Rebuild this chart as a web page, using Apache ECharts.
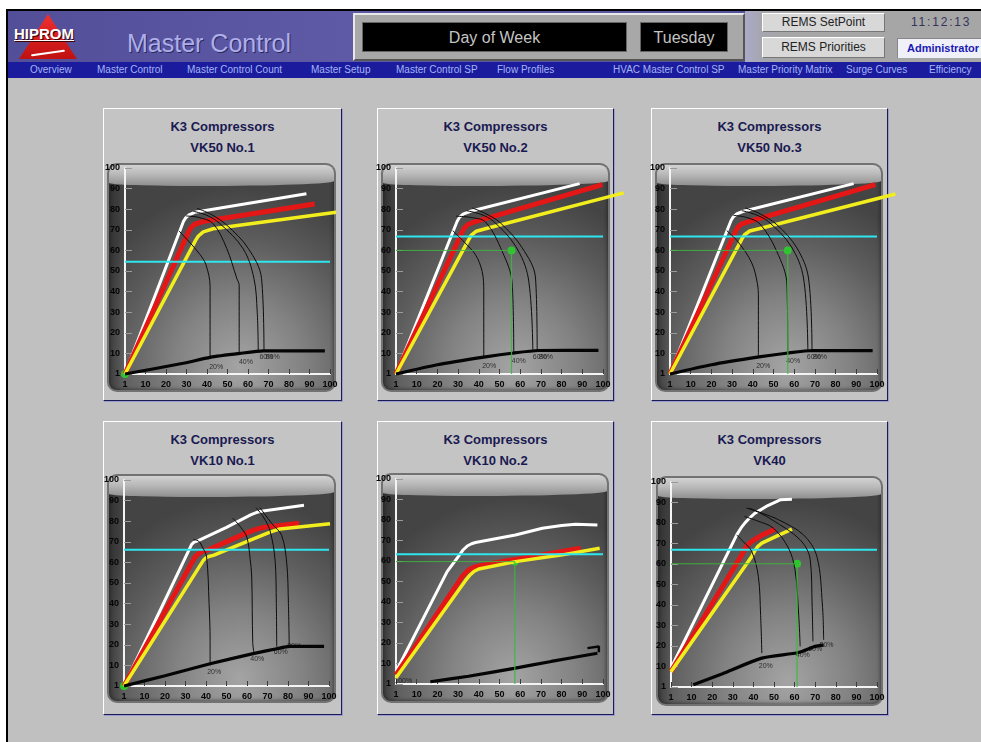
<!DOCTYPE html>
<html><head><meta charset="utf-8">
<script src="https://cdn.jsdelivr.net/npm/echarts@6/dist/echarts.min.js"></script>
<style>
html,body{margin:0;padding:0;background:#fff;width:981px;height:742px;overflow:hidden;font-family:"Liberation Sans",Arial,sans-serif;}
.abs{position:absolute;box-sizing:border-box;}
#frame{left:6px;top:9px;width:975px;height:733px;background:#c0c0c0;border-left:2px solid #000;border-top:2px solid #000;}
#hdr{left:8px;top:11px;width:973px;height:51px;background:linear-gradient(90deg,#534e98 0%,#5e5aa6 35%,#5a57a2 60%,#4f4c95 100%);}
#logoTri{left:19px;top:14px;width:58px;height:45px;background:linear-gradient(180deg,#f03030,#c01010);clip-path:polygon(50% 0,100% 100%,0 100%);}
#logoTxt{left:14px;top:25px;font:bold 15px "Liberation Sans",Arial;color:#fff;text-decoration:underline;text-shadow:1px 1px 0 #400;}
#swoosh{left:31px;top:52px;width:34px;height:2px;background:#fff;transform:rotate(-8deg);border-radius:2px;}
#mtitle{left:127px;top:29px;font:25px "Liberation Sans",Arial;color:#aeaeea;text-shadow:1px 1px 0 #2a2a60;}
#dayFrame{left:353px;top:13px;width:392px;height:48px;background:#a8a8a8;border-top:2px solid #e8e8e8;border-left:2px solid #e8e8e8;border-right:2px solid #555;border-bottom:2px solid #555;}
.blk{background:#000;color:#c4c4c4;font:16px "Liberation Sans",Arial;text-align:center;line-height:30px;border:1px solid #666;}
#rightArea{left:745px;top:11px;width:236px;height:51px;background:linear-gradient(90deg,#aaaac8 0px,#a6a6b0 16px,#a6a6a6 40px);}
.btn{background:#d8d8d8;border-top:1px solid #fff;border-left:1px solid #fff;border-right:1px solid #777;border-bottom:1px solid #777;font:12px "Liberation Sans",Arial;color:#222;text-align:center;}
#time{left:911px;top:15px;font:12px "Liberation Sans",Arial;color:#34345a;letter-spacing:1.8px;}
#admin{left:897px;top:38px;width:84px;height:20px;background:#f0f0f8;border-top:1px solid #888;border-left:1px solid #888;font:bold 11px "Liberation Sans",Arial;color:#1a1ab4;line-height:19px;padding-left:9px;white-space:nowrap;overflow:hidden;}
#nav{left:8px;top:62px;width:973px;height:16px;background:#1b1b9e;}
.nav{font:10px "Liberation Sans",Arial;color:#a4b4f4;top:63px;line-height:14px;white-space:nowrap;}
.panel{background:#c4c4c4;border-top:1px solid #fff;border-left:1px solid #fff;border-right:1px solid #1c1c50;border-bottom:1px solid #1c1c50;box-shadow:1px 1px 0 #9a9ad4;}
.ptitle{position:absolute;left:0;width:100%;text-align:center;font:bold 13px "Liberation Sans",Arial;color:#1a1a52;}
.box{border-radius:10px;border:2px solid #727272;overflow:hidden;background:radial-gradient(ellipse 75% 80% at 58% 90%,#a4a4a4 0%,#828282 38%,#5c5c5c 72%,#444 100%);box-shadow:inset 0 0 4px rgba(0,0,0,0.6);}
.gloss{position:absolute;left:0;top:0;width:100%;height:21px;background:linear-gradient(180deg,#d2d2d2 0%,#b8b8b8 45%,#8e8e8e 100%);border-radius:0 0 60% 40% / 0 0 5px 3px;}
.lcol{position:absolute;left:0;top:0;width:15px;height:100%;background:linear-gradient(90deg,rgba(30,30,30,0.45),rgba(30,30,30,0));}
#chart{left:0;top:0;width:981px;height:742px;z-index:10;}
</style></head>
<body>
<div id="frame" class="abs"></div>
<div id="hdr" class="abs"></div>
<div id="logoTri" class="abs"></div>
<div id="logoTxt" class="abs">HIPROM</div>
<div id="swoosh" class="abs"></div>
<div id="mtitle" class="abs">Master Control</div>
<div id="dayFrame" class="abs"></div>
<div class="abs blk" style="left:362px;top:22px;width:265px;height:30px;">Day of Week</div>
<div class="abs blk" style="left:640px;top:22px;width:88px;height:30px;">Tuesday</div>
<div id="rightArea" class="abs"></div>
<div class="abs btn" style="left:762px;top:13px;width:123px;height:19px;line-height:17px;">REMS SetPoint</div>
<div class="abs btn" style="left:762px;top:37px;width:123px;height:21px;line-height:19px;">REMS Priorities</div>
<div id="time" class="abs">11:12:13</div>
<div id="admin" class="abs">Administrator</div>
<div id="nav" class="abs"></div>
<div id="navItems"></div>
<div id="panels"></div>
<div id="chart" class="abs"></div>
<script>
// ---------- text ----------
const groupTitle = 'K3 Compressors';
const panelTitles = ['VK50 No.1', 'VK50 No.2', 'VK50 No.3', 'VK10 No.1', 'VK10 No.2', 'VK40'];
const navLabels = ['Overview', 'Master Control', 'Master Control Count', 'Master Setup', 'Master Control SP', 'Flow Profiles', 'HVAC Master Control SP', 'Master Priority Matrix', 'Surge Curves', 'Efficiency'];
const tickLabels = ['1', '10', '20', '30', '40', '50', '60', '70', '80', '90', '100'];

// ---------- data (x = flow %, y = pressure %) ----------
// VK50 No.1
const white1 = [[0,0],[28.5,74],[29.6,75.8],[31.2,77.2],[34,78.5],[88.5,87.5]];
const red1 = [[0,0],[31,69],[32.1,71],[33.9,72.6],[38,74],[92.5,82.5]];
const yellow1 = [[0,0],[34.5,65],[35.8,67],[38.2,69],[43,70.5],[103,78.5]];
const cyan1 = 54.5;
const curves1 = [
  [[26.3,69.5],[31,64.5],[36.6,58],[39.5,53],[41.5,42.5],[41.5,8]],
  [[29.8,76.7],[36,76],[43,73],[49.6,61],[54.5,46.5],[55.7,43],[55.7,10]],
  [[33.3,79],[40,77],[46.3,73],[57.7,60.7],[62.9,46.4],[64.5,30],[65,11.5]],
  [[35.2,80.4],[42,77.5],[49.6,72.3],[60.1,61],[66.6,46.4],[67.8,11.5]]
];
const thick1 = [[0,0],[28.4,5.2],[41.5,8.1],[56,10],[67.5,11.2],[97.5,11.2]];
const pct1 = [['20%',44.5,3.5],['40%',59,6],['60%',69,8],['80%',72,8.3]];
const point1 = [0,0];
const cross1 = false;

// VK50 No.2
const white2 = [[0,0],[29.5,74],[30.6,76],[32.4,77.6],[36,79],[88.7,92.4]];
const red2 = [[0,0],[32,69],[33.1,71],[34.9,72.7],[38.4,74],[99.7,91.9]];
const yellow2 = [[0,0],[35,65],[36.3,67.3],[38.8,69.3],[43.2,70.5],[110,87.9]];
const cyan2 = 66.8;
const curves2 = [
  [[27.4,69.6],[33,64],[38.4,57.9],[41.6,49.8],[42.4,40.1],[42.4,7.8]],
  [[29,76.6],[36,76],[43.2,73.8],[51.3,59.5],[56.1,44.2],[56.9,9.4]],
  [[34,79.3],[41,77.5],[47.2,74],[57.8,62],[63.9,46.6],[66.1,11.8]],
  [[36.8,80.6],[43,78],[50.5,73.3],[61,61.2],[67.4,46.6],[68.2,11.8]]
];
const thick2 = [[0,0],[20,4.5],[43.2,8.3],[56.9,10.2],[68.7,11.4],[97.8,11.5]];
const pct2 = [['20%',45,4],['40%',59.3,6.1],['60%',69.5,8],['80%',72.5,8.3]];
const point2 = [55.8,60];
const cross2 = true;

// VK50 No.3
const white3 = [[0,0],[29.5,74.5],[30.6,76.3],[32.4,77.8],[35.5,79],[88.7,92.4]];
const red3 = [[0,0],[31.8,69.5],[32.9,71.4],[34.7,72.9],[38,74],[99.2,91.9]];
const yellow3 = [[0,0],[34.7,65.5],[36,67.6],[38.5,69.4],[43,70.5],[108.9,87.4]];
const cyan3 = 66.8;
const curves3 = [
  [[27.4,69.6],[33,64],[39.5,53.9],[42.2,44],[42.7,36.9],[42.7,8.6]],
  [[30.6,77],[37,76],[43.5,72.8],[51.6,59.5],[56.5,43.4],[56.9,9.4]],
  [[34.7,79.3],[41,77.5],[47.5,74],[58.5,62],[64.5,46.6],[66.6,11.8]],
  [[36.4,80.6],[43,78],[51.6,72.5],[61.3,61.2],[66.9,46.6],[68.6,11.8]]
];
const thick3 = [[0,0],[20,4.5],[43,8.3],[57,10.2],[68.7,11.4],[97.9,11.3]];
const pct3 = [['20%',45,4],['40%',59.5,6.1],['60%',69.5,8],['80%',72.5,8.3]];
const point3 = [56.9,60];
const cross3 = true;

// VK10 No.1
const white4 = [[0,0],[33,68.7],[34.2,69.8],[36.2,70.6],[50,77],[62,83.2],[64.5,84.2],[67,84.8],[87.8,87.7]];
const red4 = [[0,0],[34.6,62.6],[36,64],[38,65.2],[40.3,65.8],[61,74.8],[64.5,76],[68,77],[85.5,79]];
const yellow4 = [[0,0],[38.7,61],[40,62.2],[41.8,63],[43.6,63.4],[70,74.2],[73,75.3],[76,76.2],[100.5,78.8]];
const cyan4 = 66.2;
const curves4 = [
  [[33.8,71],[36.2,70.5],[38.5,67],[40.3,62.6],[41.5,40],[42,22],[42,10]],
  [[53,81.5],[57,77],[59.9,72.3],[61.5,62],[62.3,52.9],[62.8,21.3],[63.4,16]],
  [[64.4,86.6],[68,82],[71.2,75.5],[73.7,61],[74.3,40],[74.5,19]],
  [[66.3,86.6],[72,79],[76.9,73.1],[79.4,59.4],[80.2,40],[80.6,19]]
];
const thick4 = [[0,0],[20,5],[42,10.8],[63,15.7],[74.5,18.1],[81,19.2],[97.6,19.2]];
const pct4 = [['20%',44,7],['40%',65,13],['60%',76.5,16.5],['80%',83,19.5]];
const point4 = [0,0];
const cross4 = false;

// VK10 No.2
const white5 = [[0,6],[24.7,54.8],[30,62],[32.5,65.5],[34.4,67.3],[36.5,68.4],[38.4,69],[57.7,72.7],[70.7,76],[80,77.3],[86.8,77.9],[97.3,77.6]];
const red5 = [[0,4.4],[31.9,52.3],[34,54.6],[36,56.2],[38.4,57.2],[48,59.2],[64.2,61.8],[89.2,66.2]];
const yellow5 = [[0,3],[33.5,50.4],[35.5,52.9],[37.8,55],[40,56.1],[57.7,59.7],[80.4,63],[98.4,66.2]];
const cyan5 = 63.3;
const curves5 = [];
const thick5 = [[16.6,1.1],[35,3.8],[57,7.6],[75,11],[97.3,15]];
const hook5 = [[92.5,17.5],[98,18.3],[98,15.5]];
const pct5 = [['100%',3.5,1.6]];
const point5 = [57.4,59.7];
const cross5 = true;

// VK40
const white6 = [[0,9.2],[31.9,74.2],[34,77.6],[36,80.2],[38.5,82.8],[40.8,84.8],[47,88.5],[53,91.3],[58.7,91.6]];
const red6 = [[0,7.5],[34.4,64.5],[35.8,67.3],[37.4,69.5],[39.2,71],[44,74],[50.6,77]];
const yellow6 = [[0,7.5],[39.2,63.7],[40.6,66.3],[42.2,68.6],[44.1,70.2],[50,73],[58.7,77]];
const cyan6 = 66.9;
const curves6 = [
  [[31.9,74.2],[35,71],[39.2,66.1],[42.4,53.9],[43.5,35],[44.1,16.5]],
  [[35.6,83.2],[42,81],[49.7,77.5],[57,67.8],[60.2,57.2],[62,35],[62.7,19.8]],
  [[36.7,87.3],[43,85],[49,81.6],[62.7,71.8],[67.6,62],[68.5,40],[68.9,22.2]],
  [[37.9,87.3],[45,84.5],[52.2,81.6],[64.3,74.2],[70.8,63.7],[73.5,40],[74.1,23]]
];
const thick6 = [[10.8,1.1],[25,6.5],[44.1,14.1],[61.9,16.8],[70,19.8],[74.1,20.4]];
const pct6 = [['20%',46,10],['40%',64,15.5],['60%',70,18.3],['80%',75.5,20.3]];
const point6 = [61.2,60.1];
const cross6 = true;

// ---------- layout (pixels) ----------
const navX = [30, 97, 187, 311, 396, 497, 613, 738, 846, 929];
const layout = [
  {p:[103,108,239,293], b:[107,163,229,229], g:[125,168,205,206]},
  {p:[377,108,237,293], b:[381,163,229,229], g:[396,168,207,206]},
  {p:[651,108,237,293], b:[655,163,228,229], g:[670,168,207,206]},
  {p:[103,421,239,294], b:[107,474,229,229], g:[124,480,205,206]},
  {p:[377,421,237,294], b:[381,473,228,230], g:[396,479,207,205]},
  {p:[651,421,237,294], b:[656,476,227,230], g:[671,482,206,205]}
];
const EXT = 1.15; // overflow grid: x axis stretched so lines running past 100% are not clipped

// nav
const navBox = document.getElementById('navItems');
navLabels.forEach((t, i) => {
  const d = document.createElement('div');
  d.className = 'abs nav'; d.style.left = navX[i] + 'px'; d.textContent = t;
  navBox.appendChild(d);
});
// panels
const pBox = document.getElementById('panels');
layout.forEach((L, i) => {
  const p = document.createElement('div');
  p.className = 'abs panel';
  p.style.cssText = `left:${L.p[0]}px;top:${L.p[1]}px;width:${L.p[2]}px;height:${L.p[3]}px;`;
  p.innerHTML = `<div class="ptitle" style="top:10px">${groupTitle}</div><div class="ptitle" style="top:31px">${panelTitles[i]}</div>`;
  pBox.appendChild(p);
  const b = document.createElement('div');
  b.className = 'abs box';
  b.style.cssText = `left:${L.b[0]}px;top:${L.b[1]}px;width:${L.b[2]}px;height:${L.b[3]}px;`;
  b.innerHTML = '<div class="lcol"></div><div class="gloss"></div>';
  pBox.appendChild(b);
});

// ---------- chart ----------
const panels = [
  {white:white1, red:red1, yellow:yellow1, cyan:cyan1, curves:curves1, thick:thick1, pct:pct1, point:point1, cross:cross1},
  {white:white2, red:red2, yellow:yellow2, cyan:cyan2, curves:curves2, thick:thick2, pct:pct2, point:point2, cross:cross2},
  {white:white3, red:red3, yellow:yellow3, cyan:cyan3, curves:curves3, thick:thick3, pct:pct3, point:point3, cross:cross3},
  {white:white4, red:red4, yellow:yellow4, cyan:cyan4, curves:curves4, thick:thick4, pct:pct4, point:point4, cross:cross4},
  {white:white5, red:red5, yellow:yellow5, cyan:cyan5, curves:curves5, thick:thick5, pct:pct5, point:point5, cross:cross5, hook:hook5},
  {white:white6, red:red6, yellow:yellow6, cyan:cyan6, curves:curves6, thick:thick6, pct:pct6, point:point6, cross:cross6}
];

const grid = [], xAxis = [], yAxis = [], series = [];
const lblFont = {color:'#050505', fontWeight:'bold', fontSize:9, fontFamily:'"Liberation Sans Narrow","Liberation Sans",Arial'};
const N = panels.length;
panels.forEach((P, i) => {
  const g = layout[i].g;
  grid.push({left:g[0], top:g[1], width:g[2], height:g[3]});
  xAxis.push({gridIndex:i, type:'value', min:0, max:100, interval:10,
    axisLine:{onZero:false, lineStyle:{color:'#f4f4f4', width:2}},
    axisTick:{inside:true, length:5, lineStyle:{color:'#3a3a3a', width:1}},
    axisLabel:Object.assign({margin:6, formatter:v => tickLabels[Math.round(v/10)]}, lblFont),
    splitLine:{show:false}});
  yAxis.push({gridIndex:i, type:'value', min:0, max:100, interval:10,
    axisLine:{onZero:false, lineStyle:{color:'#f4f4f4', width:2}},
    axisTick:{inside:true, length:7, lineStyle:{color:'#9a9a9a', width:1}},
    axisLabel:Object.assign({margin:5, formatter:v => tickLabels[Math.round(v/10)]}, lblFont),
    splitLine:{show:false}});
});
// hidden overflow grids (same scale, wider extent)
panels.forEach((P, i) => {
  const g = layout[i].g;
  grid.push({left:g[0], top:g[1], width:g[2] * EXT, height:g[3]});
  xAxis.push({gridIndex:N + i, type:'value', min:0, max:100 * EXT, show:false});
  yAxis.push({gridIndex:N + i, type:'value', min:0, max:100, show:false});
});

panels.forEach((P, i) => {
  const base = {type:'line', xAxisIndex:i, yAxisIndex:i, symbol:'none', silent:true, animation:false, clip:false};
  const ext = {xAxisIndex:N + i, yAxisIndex:N + i};
  series.push(Object.assign({}, base, {data:P.white, lineStyle:{color:'#ffffff', width:3, join:'round'}}));
  series.push(Object.assign({}, base, {data:P.red, lineStyle:{color:'#e41616', width:5, join:'round'}}));
  series.push(Object.assign({}, base, ext, {data:P.yellow, lineStyle:{color:'#f2ee1e', width:3.5, join:'round'}}));
  series.push(Object.assign({}, base, {data:[[0,P.cyan],[100,P.cyan]], lineStyle:{color:'#2ee6ee', width:2}}));
  P.curves.forEach(c => series.push(Object.assign({}, base, {data:c, smooth:0.35, lineStyle:{color:'#0c0c0c', width:1}})));
  series.push(Object.assign({}, base, {data:P.thick, smooth:0.2, lineStyle:{color:'#050505', width:3.2}}));
  if (P.hook) series.push(Object.assign({}, base, {data:P.hook, lineStyle:{color:'#050505', width:2.5}}));
  if (P.cross) {
    series.push(Object.assign({}, base, {data:[[0,P.point[1]],P.point], lineStyle:{color:'#3cb83c', width:1, opacity:0.9}}));
    series.push(Object.assign({}, base, {data:[P.point,[P.point[0],0]], lineStyle:{color:'#3cb83c', width:1.2, opacity:0.9}}));
  }
  series.push({type:'scatter', xAxisIndex:i, yAxisIndex:i, silent:true, animation:false, clip:false,
    data:[P.point], symbolSize:8, itemStyle:{color:'#22e022'}});
  series.push({type:'scatter', xAxisIndex:i, yAxisIndex:i, silent:true, animation:false, clip:false,
    data:P.pct.map(d => ({name:d[0], value:[d[1], d[2]]})), symbolSize:0,
    label:{show:true, position:'inside', formatter:p => p.name, fontSize:7, color:'#111', fontFamily:'"Liberation Sans",Arial'}});
});

const chart = echarts.init(document.getElementById('chart'), null, {renderer:'canvas'});
chart.setOption({backgroundColor:'transparent', animation:false, grid, xAxis, yAxis, series});
</script>
</body></html>
